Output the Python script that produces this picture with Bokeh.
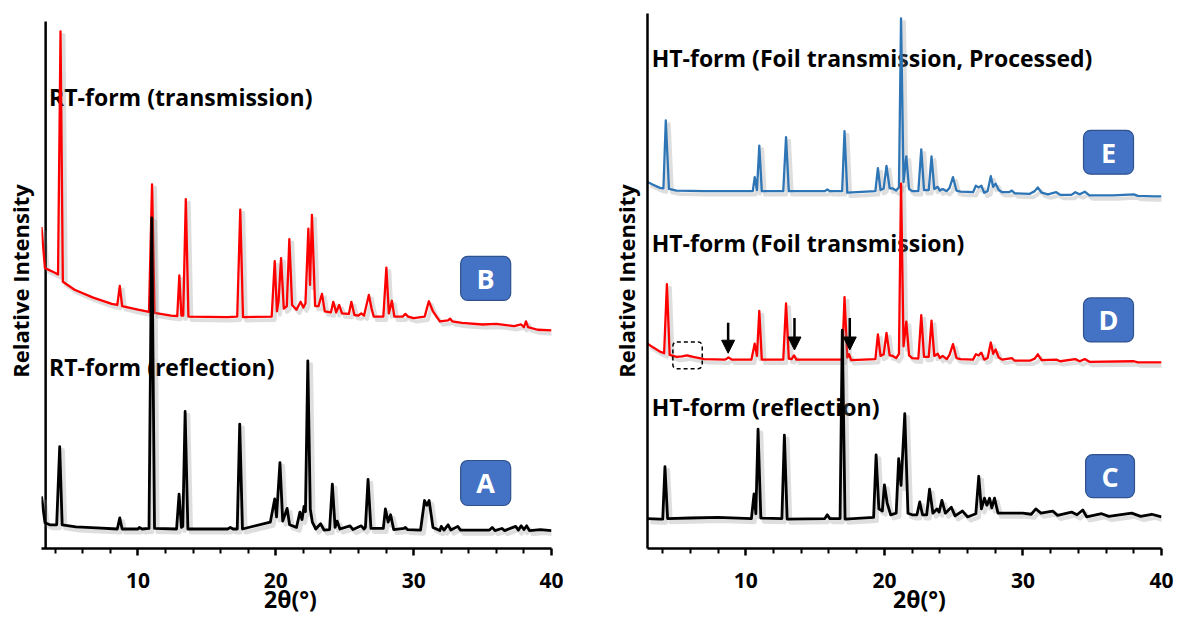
from bokeh.plotting import figure
from bokeh.layouts import row
from bokeh.models import (Range1d, FixedTicker, Label, BoxAnnotation, ColumnDataSource,
                          Arrow, NormalHead)
from bokeh.transform import dodge
from bokeh.embed import file_html
from bokeh.resources import INLINE

# ---------------- data (2theta in degrees, relative intensity in % of axis) ----
# Left panel, RT-form
tt_B = [3.0, 3.25, 3.9, 4.2, 4.38, 4.55, 5.4, 6.75, 8.1, 8.5, 8.68, 8.85, 10.0, 10.8, 11.02,
        11.2, 12.4, 12.85, 13.0, 13.15, 13.28, 13.47, 13.66, 16.5, 17.2, 17.42, 17.62,
        19.7, 19.92, 20.08, 20.2, 20.38, 20.58, 20.8, 20.98, 21.18, 21.5, 21.8, 22.0,
        22.15, 22.36, 22.48, 22.62, 22.85, 23.1, 23.35, 23.55, 24.0, 24.17, 24.38, 24.6,
        24.8, 25.3, 25.48, 25.7, 26.0, 26.2, 26.4, 26.75, 26.95, 27.1, 27.8, 28.02, 28.2,
        28.42, 28.6, 29.2, 29.4, 29.6, 30.0, 30.8, 31.1, 31.4, 31.9, 32.5, 32.65, 32.8,
        33.5, 35.0, 36.0, 37.3, 37.8, 38.0, 38.15, 38.3, 39.0, 40.0]
int_B = [61.0, 53.2, 52.4, 52.0, 98.1, 50.6, 49.1, 47.6, 46.4, 46.2, 49.8, 46.0, 45.3, 44.9, 69.1,
         44.7, 44.2, 44.1, 51.8, 44.2, 44.2, 66.3, 44.0, 43.9, 44.0, 64.3, 43.9,
         44.0, 54.5, 45.0, 47.0, 55.1, 45.5, 46.0, 58.7, 46.2, 45.3, 46.8, 45.7,
         46.5, 60.7, 50.0, 63.3, 46.0, 46.0, 48.3, 45.0, 44.8, 46.8, 44.8, 46.2,
         44.6, 44.5, 46.8, 44.3, 44.2, 44.6, 44.2, 48.1, 45.5, 44.0, 44.0, 53.3, 44.6,
         47.0, 44.0, 44.0, 44.5, 44.0, 43.7, 44.0, 46.9, 45.0, 43.1, 43.3, 43.6, 43.1,
         42.8, 42.5, 42.6, 42.2, 42.5, 42.0, 43.1, 42.0, 41.5, 41.4]

tt_A = [3.0, 3.25, 3.6, 4.1, 4.32, 4.5, 5.5, 7.0, 8.5, 8.68, 8.85, 10.0, 10.1, 10.3, 10.8,
        11.0, 11.2, 12.8, 12.98, 13.15, 13.25, 13.42, 13.62, 16.5, 16.7, 16.9, 17.2, 17.38,
        17.58, 19.6, 19.92, 20.05, 20.3, 20.5, 20.82, 21.0, 21.5, 21.75, 21.9, 22.05,
        22.15, 22.32, 22.5, 22.65, 22.9, 23.25, 23.5, 23.9, 24.1, 24.3, 24.45, 24.65,
        25.38, 25.6, 26.2, 26.4, 26.5, 26.69, 26.9, 27.8, 27.95, 28.15, 28.33, 28.55,
        29.3, 29.4, 29.55, 30.5, 30.79, 30.95, 31.12, 31.4, 31.9, 32.0, 32.2, 32.5, 32.7,
        33.2, 33.4, 35.5, 35.7, 35.9, 36.4, 36.6, 37.4, 37.6, 37.8, 38.0, 38.2, 38.4,
        39.2, 40.0]
int_A = [9.9, 4.9, 4.5, 4.5, 19.3, 4.5, 4.1, 3.9, 3.7, 5.8, 3.7, 3.7, 4.0, 3.7, 3.8,
         62.7, 3.8, 3.7, 10.3, 4.0, 4.2, 26.0, 3.7, 3.7, 4.0, 3.7, 3.7, 23.6,
         3.7, 5.0, 9.4, 6.0, 16.3, 5.2, 7.6, 4.5, 4.0, 6.9, 5.5, 8.0,
         7.0, 35.6, 7.5, 5.0, 3.7, 4.7, 3.5, 3.6, 12.2, 4.0, 5.2, 3.7,
         4.3, 3.6, 4.3, 3.7, 4.0, 13.1, 3.8, 3.8, 7.5, 5.0, 6.4, 3.6,
         3.8, 4.0, 3.6, 3.5, 9.1, 8.2, 9.1, 4.0, 3.4, 4.2, 3.5, 4.5, 3.5,
         4.2, 3.5, 3.5, 4.0, 3.4, 3.8, 3.4, 4.2, 3.5, 4.3, 3.6, 4.3, 3.4,
         3.6, 3.4]

# Right panel, HT-form
tt_E = [2.9, 3.3, 3.8, 4.05, 4.22, 4.45, 5.0, 7.0, 10.0, 10.5, 10.64, 10.8, 10.97, 11.15,
        12.7, 12.9, 13.1, 15.7, 15.88, 16.05, 16.95, 17.12, 17.32, 19.35, 19.53, 19.72,
        19.95, 20.15, 20.38, 20.6, 20.85, 21.05, 21.2, 21.38, 21.58, 21.78, 22.0, 22.45,
        22.66, 22.86, 23.2, 23.4, 23.6, 23.85, 24.0, 24.2, 24.5, 24.7, 24.95, 25.2, 25.5,
        26.4, 26.6, 26.8, 27.0, 27.2, 27.45, 27.68, 27.85, 28.03, 28.25, 28.5, 29.0, 29.2,
        29.4, 30.5, 30.85, 31.07, 31.35, 31.8, 32.4, 32.7, 33.5, 33.78, 34.1, 34.46, 34.8,
        36.5, 38.0, 38.3, 39.5, 40.0]
int_E = [68.5, 68.0, 67.4, 67.3, 80.0, 67.2, 66.9, 66.8, 66.8, 66.8, 69.4, 67.0, 75.3, 66.8,
         66.8, 76.9, 66.8, 66.8, 67.1, 66.8, 66.8, 78.0, 66.5, 66.8, 71.1, 67.0,
         67.3, 71.5, 67.3, 67.3, 66.9, 67.5, 99.1, 68.5, 73.3, 67.2, 66.8, 66.8,
         74.6, 67.0, 67.0, 73.3, 67.2, 67.6, 66.9, 67.2, 66.8, 67.4, 69.4, 66.9, 66.7,
         66.6, 67.8, 67.5, 67.8, 66.5, 66.8, 69.6, 67.6, 68.2, 67.0, 66.6, 66.6, 66.9,
         66.4, 66.3, 66.8, 67.5, 66.5, 66.2, 66.6, 66.1, 66.1, 66.6, 66.2, 66.7, 66.0,
         66.0, 66.2, 65.9, 65.8, 65.8]

tt_D = [2.9, 3.3, 3.8, 4.1, 4.3, 4.5, 5.0, 5.4, 5.75, 6.2, 7.0, 8.5, 8.75, 9.0, 10.4, 10.64,
        10.8, 10.97, 11.15, 12.7, 12.9, 13.1, 13.3, 13.48, 13.65, 15.9, 16.95, 17.12, 17.32,
        17.45, 17.6, 19.35, 19.53, 19.72, 19.95, 20.15, 20.38, 20.6, 20.85, 21.05, 21.2,
        21.38, 21.58, 21.78, 22.0, 22.45, 22.66, 22.86, 23.2, 23.4, 23.6, 23.85, 24.0, 24.2,
        24.5, 24.7, 24.95, 25.2, 25.5, 26.4, 26.6, 26.8, 27.0, 27.2, 27.45, 27.68, 27.85,
        28.03, 28.25, 28.5, 29.2, 29.4, 30.5, 30.85, 31.07, 31.35, 32.4, 32.7, 33.78, 34.1,
        34.46, 34.8, 38.0, 38.3, 40.0]
int_D = [38.3, 37.6, 36.8, 36.5, 49.4, 36.2, 35.8, 35.9, 36.1, 35.8, 35.4, 35.3, 35.7, 35.3, 35.3, 38.3,
         36.0, 44.4, 35.3, 35.3, 45.8, 35.5, 35.4, 36.1, 35.3, 35.3, 35.3, 47.0, 35.7,
         36.3, 35.2, 35.4, 40.0, 36.0, 36.3, 40.3, 36.1, 36.0, 35.6, 36.4, 68.2,
         37.8, 42.4, 36.1, 35.6, 35.5, 43.6, 35.8, 35.8, 42.6, 36.0, 36.4, 35.6, 36.0,
         35.4, 36.2, 38.2, 35.6, 35.4, 35.3, 36.3, 36.1, 36.6, 35.3, 35.6, 38.5, 36.4,
         37.2, 35.7, 35.3, 35.6, 35.1, 35.1, 35.5, 36.3, 35.2, 35.3, 35.0, 35.4, 35.0,
         35.4, 34.9, 35.0, 34.8, 34.8]

tt_C = [2.9, 3.8, 4.0, 4.16, 4.35, 6.0, 8.0, 10.4, 10.59, 10.72, 10.88, 11.08, 12.6, 12.78,
        12.98, 15.7, 15.88, 16.05, 16.8, 16.96, 17.16, 19.22, 19.4, 19.6, 19.85, 20.0, 20.2,
        20.45, 20.85, 21.03, 21.2, 21.47, 21.7, 22.0, 22.35, 22.55, 22.75, 23.05, 23.26,
        23.5, 23.8, 23.95, 24.15, 24.4, 24.83, 25.1, 25.64, 26.0, 26.6, 26.81, 27.0, 27.22,
        27.4, 27.59, 27.75, 27.95, 28.2, 28.9, 29.98, 30.6, 30.93, 31.3, 32.15, 32.5, 33.51,
        33.9, 34.32, 34.6, 35.68, 36.2, 37.85, 38.5, 39.3, 40.0]
int_C = [5.6, 5.5, 5.5, 15.3, 5.6, 5.7, 5.8, 5.6, 10.2, 6.5, 22.3, 5.7, 5.6, 21.2,
         5.5, 5.6, 6.3, 5.6, 5.6, 40.8, 5.5, 5.8, 17.5, 7.4, 7.0, 11.9, 8.5,
         6.3, 6.6, 16.8, 11.8, 25.2, 6.6, 6.3, 6.3, 8.7, 6.3, 6.3, 11.1,
         6.6, 7.4, 6.8, 9.0, 6.6, 7.7, 6.1, 7.0, 5.9, 6.5, 13.5, 7.4, 9.4,
         8.1, 9.4, 7.6, 9.4, 6.6, 6.6, 6.6, 6.4, 7.4, 6.6, 7.0, 6.2, 6.8,
         6.3, 7.2, 5.9, 6.5, 6.0, 6.6, 6.0, 6.4, 5.9]

x_major_ticks = [10, 20, 30, 40]
x_minor_ticks = [4, 6, 8, 12, 14, 16, 18, 22, 24, 26, 28, 32, 34, 36, 38]

FONT = "Open Sans"
RED = "#FF0000"
BLUE = "#2E75B6"
BOXBLUE = "#4472C4"
H = 618
NB = "\u00a0"


def make_fig(width, xr, yr, mb_left, mb_right, xlabel):
    p = figure(width=width, height=H, x_range=Range1d(*xr), y_range=Range1d(*yr),
               output_backend="svg", toolbar_location=None,
               min_border_left=mb_left, min_border_right=mb_right,
               min_border_top=13, min_border_bottom=70)
    p.outline_line_color = None
    p.grid.visible = False
    p.background_fill_color = "white"
    p.border_fill_color = "white"
    ax = p.xaxis[0]
    ax.ticker = FixedTicker(ticks=x_major_ticks, minor_ticks=x_minor_ticks)
    ax.axis_line_width = 2.5
    ax.axis_line_color = "black"
    ax.major_tick_line_width = 2.5
    ax.minor_tick_line_width = 2
    ax.major_tick_out = 7
    ax.major_tick_in = 0
    ax.minor_tick_out = 5
    ax.minor_tick_in = 0
    ax.major_label_text_font = FONT
    ax.major_label_text_font_style = "bold"
    ax.major_label_text_font_size = "21px"
    ax.major_label_text_color = "black"
    ax.major_label_standoff = 17
    ax.axis_label = xlabel
    ax.axis_label_text_font = FONT
    ax.axis_label_text_font_style = "bold"
    ax.axis_label_text_font_size = "23px"
    ax.axis_label_text_color = "black"
    ax.axis_label_standoff = -8
    ay = p.yaxis[0]
    ay.ticker = FixedTicker(ticks=[])
    ay.major_tick_line_color = None
    ay.minor_tick_line_color = None
    ay.major_label_text_font_size = "0px"
    ay.axis_line_width = 2.5
    ay.axis_line_color = "black"
    ay.axis_label = "Relative Intensity"
    ay.axis_label_text_font = FONT
    ay.axis_label_text_font_style = "bold"
    ay.axis_label_text_font_size = "22px"
    ay.axis_label_text_color = "black"
    ay.axis_label_standoff = 7
    return p


def add_curve(p, xs, ys, color, width):
    src = ColumnDataSource(dict(x=xs, y=ys))
    # soft drop shadow, like the original figure
    p.line(x=dodge("x", 0.22), y=dodge("y", -0.65), source=src, line_color="#8a8a8a",
           line_alpha=0.28, line_width=width + 1.5, line_join="round")
    p.line(x="x", y="y", source=src, line_color=color, line_width=width, line_join="round")


def add_text(p, x, y, text, size="23px", align="left", baseline="alphabetic",
             color="black", level="underlay"):
    lab = Label(x=x, y=y, text=text, text_font=FONT, text_font_style="bold",
                text_font_size=size, text_align=align, text_baseline=baseline,
                text_color=color)
    lab.level = level
    p.add_layout(lab)


def add_box(p, left, right, bottom, top, letter):
    kw = dict(left=left, right=right, bottom=bottom, top=top, fill_color=BOXBLUE,
              fill_alpha=1.0, line_color="#2F528F", line_alpha=1.0, line_width=1.2)
    try:
        box = BoxAnnotation(border_radius=7, **kw)
    except Exception:
        box = BoxAnnotation(**kw)
    p.add_layout(box)
    add_text(p, (left + right) / 2, (bottom + top) / 2, letter, size="27px",
             align="center", baseline="middle", color="white", level="annotation")


# ---------------- left panel ----------------
p1 = make_fig(600, (3.0, 40.0), (0, 101.5), 41, 49, "2θ(°)" + NB + NB)
p1.yaxis[0].axis_line_color = None
p1.segment(x0=[3.3], y0=[0], x1=[3.3], y1=[100], line_color="black", line_width=2.5)
add_curve(p1, tt_B, int_B, RED, 2.3)
add_curve(p1, tt_A, int_A, "black", 2.8)
add_text(p1, 3.55, 85.6, "RT-form (transmission)")
add_text(p1, 3.55, 34.5, "RT-form (reflection)")
add_box(p1, 33.41, 37.04, 47.06, 55.41, "B")
add_box(p1, 33.41, 37.04, 8.16, 16.70, "A")

# ---------------- right panel ----------------
p2 = make_fig(578, (2.9, 40.0), (0, 100), 47, 17, NB * 5 + "2θ(°)")
add_curve(p2, tt_E, int_E, BLUE, 2.3)
add_curve(p2, tt_D, int_D, RED, 2.3)
add_curve(p2, tt_C, int_C, "black", 2.8)
add_text(p2, 3.2, 91.6, "HT-form (Foil transmission, Processed)")
add_text(p2, 3.2, 57.1, "HT-form (Foil transmission)")
add_text(p2, 3.2, 26.5, "HT-form (reflection)")
add_box(p2, 34.37, 37.98, 69.96, 78.17, "E")
add_box(p2, 34.37, 37.98, 38.62, 46.83, "D")
add_box(p2, 34.52, 38.05, 9.51, 17.54, "C")
for ax_, y0, y1 in [(8.72, 42.2, 36.5), (13.51, 43.1, 37.1), (17.5, 43.1, 37.1)]:
    p2.add_layout(Arrow(end=NormalHead(size=13, fill_color="black", line_color="black"),
                        x_start=ax_, y_start=y0, x_end=ax_, y_end=y1,
                        line_color="black", line_width=2.5))
dkw = dict(left=4.73, right=6.85, bottom=33.6, top=38.6, fill_alpha=0.0,
           line_color="black", line_alpha=1.0, line_dash="4 3", line_width=1.5)
try:
    dbox = BoxAnnotation(border_radius=4, **dkw)
except Exception:
    dbox = BoxAnnotation(**dkw)
p2.add_layout(dbox)

layout = row(p1, p2)
open("out.html", "w").write(file_html(layout, INLINE))
